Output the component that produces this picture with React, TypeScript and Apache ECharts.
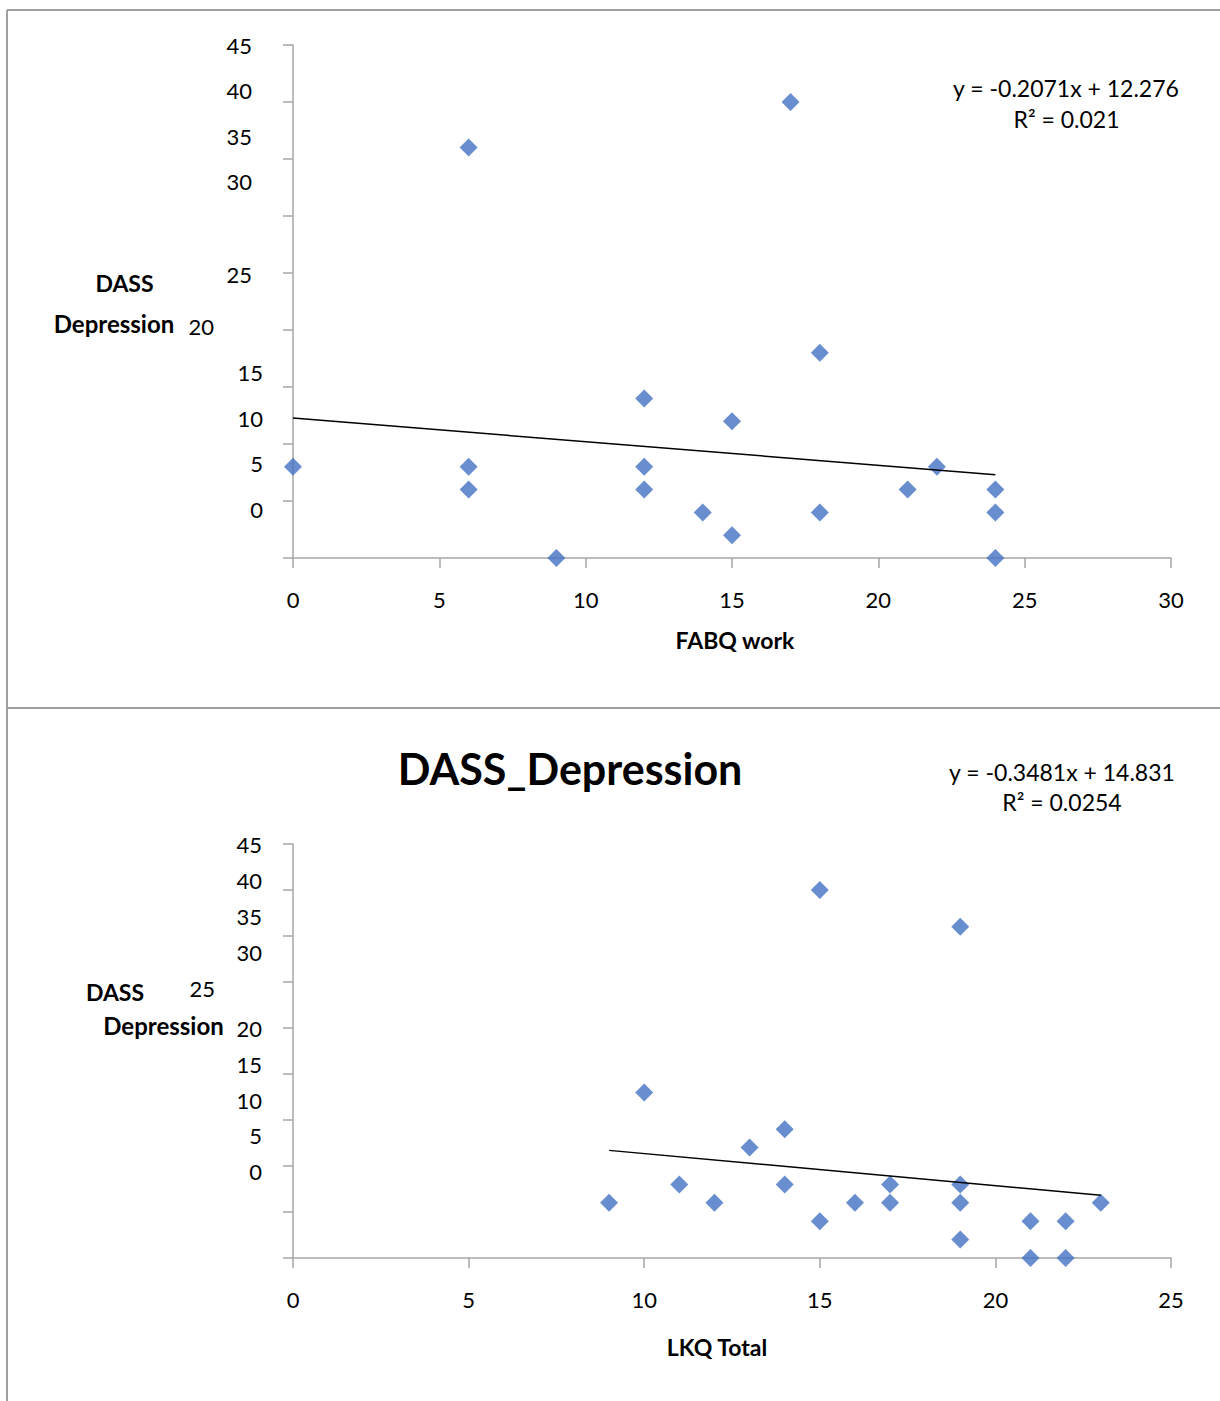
import React, { useEffect, useRef } from "react";
import * as echarts from "echarts";

// ---- Data ----
const fabqWork = [0, 6, 6, 6, 9, 12, 12, 12, 14, 15, 15, 17, 18, 18, 21, 22, 24, 24, 24];
const fabqDepression = [8, 36, 8, 6, 0, 14, 8, 6, 4, 12, 2, 40, 18, 4, 6, 8, 6, 4, 0];
const lkqTotal = [9, 10, 11, 12, 13, 14, 14, 15, 15, 16, 17, 17, 19, 19, 19, 19, 21, 21, 22, 22, 23];
const lkqDepression = [6, 18, 8, 6, 12, 14, 8, 40, 4, 6, 8, 6, 36, 8, 6, 2, 4, 0, 4, 0, 6];

const yTickLabels = ["45", "40", "35", "30", "25", "20", "15", "10", "5", "0"];
const trendTop = { slope: -0.2071, intercept: 12.276, r2: "0.021" };
const trendBottom = { slope: -0.3481, intercept: 14.831, r2: "0.0254" };
const topEquation = "y = -0.2071x + 12.276";
const bottomEquation = "y = -0.3481x + 14.831";
const chartTitle = "DASS_Depression";
const topXTitle = "FABQ work";
const bottomXTitle = "LKQ Total";

// ---- Layout (positions of the offset tick labels as in the original) ----
const topYLabelPos = [
  [252, 45], [252, 90], [252, 136], [252, 181], [252, 274.5],
  [214, 326], [263, 372.5], [263, 418], [263, 463.5], [263, 509],
];
const bottomYLabelPos = [
  [262, 844], [262, 880], [262, 916], [262, 952], [215, 988],
  [262, 1028], [262, 1064.5], [262, 1100], [262, 1135.5], [262, 1171.5],
];

const FONT = "Lato, 'Open Sans', sans-serif";
const AXIS_GRAY = "#A6A6A6";
const BLUE = "#4472C4";

function trendPoints(xs: number[], t: { slope: number; intercept: number }) {
  const mn = Math.min(...xs);
  const mx = Math.max(...xs);
  return [
    [mn, t.slope * mn + t.intercept],
    [mx, t.slope * mx + t.intercept],
  ];
}

function zip(a: number[], b: number[]) {
  return a.map((v, i) => [v, b[i]]);
}

function text(x: number, y: number, str: string, opts: any = {}) {
  return {
    type: "text",
    x,
    y,
    z: 100,
    style: {
      text: str,
      font: `${opts.bold ? "bold " : ""}${opts.size || 22}px ${FONT}`,
      fill: "#000",
      align: opts.align || "center",
      verticalAlign: "middle",
    },
  };
}

export default function App() {
  const ref = useRef<HTMLDivElement>(null);

  useEffect(() => {
    if (!ref.current) return;
    const chart = echarts.init(ref.current, undefined, { renderer: "svg" });

    const xAxisBase = (min: number, max: number, gridIndex: number) => ({
      type: "value",
      gridIndex,
      min,
      max,
      interval: 5,
      axisLine: { show: true, lineStyle: { color: AXIS_GRAY, width: 1.5 } },
      axisTick: { show: true, inside: false, length: 10, lineStyle: { color: AXIS_GRAY, width: 1.5 } },
      axisLabel: { show: true, margin: 30, fontSize: 22, fontFamily: FONT, color: "#000" },
      splitLine: { show: false },
    });
    const yAxisBase = (gridIndex: number) => ({
      type: "value",
      gridIndex,
      min: 0,
      max: 45,
      interval: 5,
      axisLine: { show: true, lineStyle: { color: AXIS_GRAY, width: 1.5 } },
      axisTick: { show: true, inside: false, length: 10, lineStyle: { color: AXIS_GRAY, width: 1.5 } },
      axisLabel: { show: false },
      splitLine: { show: false },
    });

    const graphics: any[] = [
      // chart borders
      { type: "line", shape: { x1: 7, y1: 10, x2: 1220, y2: 10 }, style: { stroke: "#A0A0A0", lineWidth: 2 } },
      { type: "line", shape: { x1: 7, y1: 10, x2: 7, y2: 1401 }, style: { stroke: "#A0A0A0", lineWidth: 2 } },
      { type: "line", shape: { x1: 7, y1: 708, x2: 1220, y2: 708 }, style: { stroke: "#A0A0A0", lineWidth: 2 } },
      // y tick labels
      ...yTickLabels.map((l, i) => text(topYLabelPos[i][0], topYLabelPos[i][1], l, { align: "right" })),
      ...yTickLabels.map((l, i) => text(bottomYLabelPos[i][0], bottomYLabelPos[i][1], l, { align: "right" })),
      // axis titles
      text(124.5, 283, "DASS", { bold: true, size: 23 }),
      text(114, 323.5, "Depression", { bold: true, size: 24 }),
      text(115, 992, "DASS", { bold: true, size: 23 }),
      text(163.5, 1025, "Depression", { bold: true, size: 24 }),
      text(735, 640, topXTitle, { bold: true, size: 23 }),
      text(717, 1347, bottomXTitle, { bold: true, size: 23 }),
      // equations
      text(1066, 88, topEquation, { size: 23 }),
      text(1066.5, 119, `R² = ${trendTop.r2}`, { size: 23 }),
      text(1062, 772, bottomEquation, { size: 23 }),
      text(1062, 802, `R² = ${trendBottom.r2}`, { size: 23 }),
      // title
      text(570, 768, chartTitle, { bold: true, size: 43 }),
    ];

    chart.setOption({
      animation: false,
      backgroundColor: "#fff",
      grid: [
        { left: 293, top: 45, width: 878, height: 513 },
        { left: 293, top: 844, width: 878, height: 414 },
      ],
      xAxis: [xAxisBase(0, 30, 0), xAxisBase(0, 25, 1)],
      yAxis: [yAxisBase(0), yAxisBase(1)],
      series: [
        {
          type: "scatter",
          xAxisIndex: 0,
          yAxisIndex: 0,
          data: zip(fabqWork, fabqDepression),
          symbol: "diamond",
          symbolSize: 18,
          itemStyle: { color: BLUE },
          clip: false,
          z: 2,
        },
        {
          type: "line",
          xAxisIndex: 0,
          yAxisIndex: 0,
          data: trendPoints(fabqWork, trendTop),
          showSymbol: false,
          symbol: "none",
          lineStyle: { color: "#000", width: 1.5 },
          z: 3,
        },
        {
          type: "scatter",
          xAxisIndex: 1,
          yAxisIndex: 1,
          data: zip(lkqTotal, lkqDepression),
          symbol: "diamond",
          symbolSize: 18,
          itemStyle: { color: BLUE },
          clip: false,
          z: 2,
        },
        {
          type: "line",
          xAxisIndex: 1,
          yAxisIndex: 1,
          data: trendPoints(lkqTotal, trendBottom),
          showSymbol: false,
          symbol: "none",
          lineStyle: { color: "#000", width: 1.5 },
          z: 3,
        },
      ],
      graphic: graphics,
    });

    return () => chart.dispose();
  }, []);

  return (
    <div
      ref={ref}
      style={{ position: "absolute", left: 0, top: 0, width: 1220, height: 1401 }}
    />
  );
}
